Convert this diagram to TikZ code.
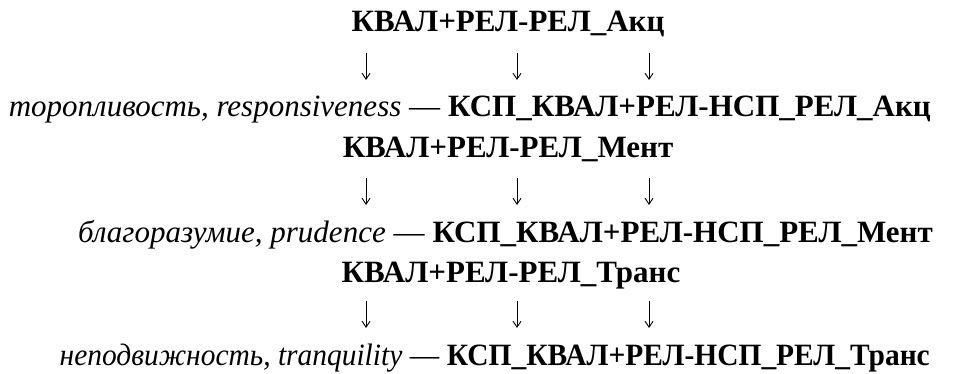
\documentclass[tikz,border=0pt]{standalone}
\usepackage{fontspec}
\setmainfont{Liberation Serif}
\usetikzlibrary{arrows.meta}
\tikzset{
  head/.style={font=\fontsize{31}{33}\selectfont\bfseries, inner sep=0pt},
  gloss/.style={font=\fontsize{31}{33}\selectfont, inner sep=0pt},
  down/.style={-{Straight Barb[length=6pt,width=8pt]}, line width=0.9pt}
}
\begin{document}
\begin{tikzpicture}[x=1pt,y=-1pt]
  \useasboundingbox (0,0) rectangle (968,374);

  % Group 1
  \node[head, anchor=base] (h1) at (508,32) {КВАЛ+РЕЛ-РЕЛ\_Акц};
  \node[gloss, anchor=base east] (g1) at (931,117)
    {\textit{торопливость, responsiveness} — \textbf{КСП\_КВАЛ+РЕЛ-НСП\_РЕЛ\_Акц}};
  \foreach \i/\x in {a/366,b/517,c/649} {
    \coordinate (t1\i) at (\x,53);
    \coordinate (b1\i) at (\x,80);
    \draw[down] (t1\i) -- (b1\i);
  }

  % Group 2
  \node[head, anchor=base] (h2) at (508,158) {КВАЛ+РЕЛ-РЕЛ\_Мент};
  \node[gloss, anchor=base east] (g2) at (933,242)
    {\textit{благоразумие, prudence} — \textbf{КСП\_КВАЛ+РЕЛ-НСП\_РЕЛ\_Мент}};
  \foreach \i/\x in {a/366,b/517,c/649} {
    \coordinate (t2\i) at (\x,178);
    \coordinate (b2\i) at (\x,205);
    \draw[down] (t2\i) -- (b2\i);
  }

  % Group 3 (gloss line set slightly condensed)
  \node[head, anchor=base] (h3) at (511,282) {КВАЛ+РЕЛ-РЕЛ\_Транс};
  \node[gloss, anchor=base east] (g3) at (930,365)
    {\scalebox{0.95}[1]{\textit{неподвижность, tranquility} — \textbf{КСП\_КВАЛ+РЕЛ-НСП\_РЕЛ\_Транс}}};
  \foreach \i/\x in {a/366,b/517,c/649} {
    \coordinate (t3\i) at (\x,301);
    \coordinate (b3\i) at (\x,328);
    \draw[down] (t3\i) -- (b3\i);
  }
\end{tikzpicture}
\end{document}
